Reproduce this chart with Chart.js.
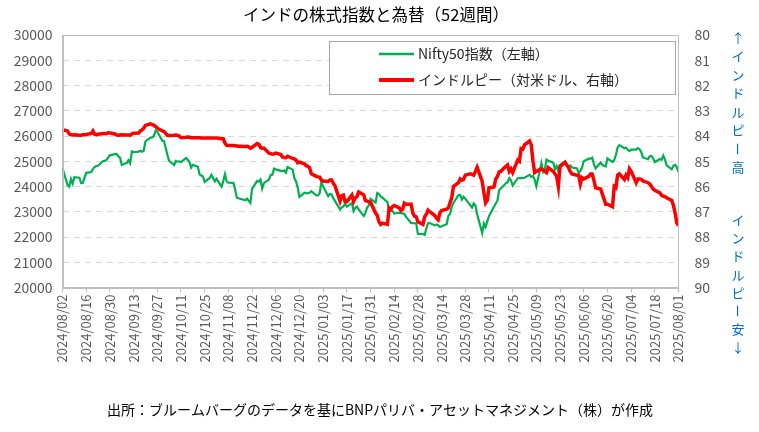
<!DOCTYPE html>
<html>
<head>
<meta charset="utf-8">
<script src="https://cdn.jsdelivr.net/npm/chart.js@4.4.1/dist/chart.umd.min.js"></script>
<style>
  html, body { margin: 0; padding: 0; background: #fff; }
  #wrap { width: 759px; height: 432px; position: relative; }
</style>
</head>
<body>
<div id="wrap"><canvas id="chart-india"></canvas></div>
<script>
// Business days (one line per week)
const dates = [
  '2024/08/02',
  '2024/08/05','2024/08/06','2024/08/07','2024/08/08','2024/08/09',
  '2024/08/12','2024/08/13','2024/08/14','2024/08/15','2024/08/16',
  '2024/08/19','2024/08/20','2024/08/21','2024/08/22','2024/08/23',
  '2024/08/26','2024/08/27','2024/08/28','2024/08/29','2024/08/30',
  '2024/09/02','2024/09/03','2024/09/04','2024/09/05','2024/09/06',
  '2024/09/09','2024/09/10','2024/09/11','2024/09/12','2024/09/13',
  '2024/09/16','2024/09/17','2024/09/18','2024/09/19','2024/09/20',
  '2024/09/23','2024/09/24','2024/09/25','2024/09/26','2024/09/27',
  '2024/09/30','2024/10/01','2024/10/02','2024/10/03','2024/10/04',
  '2024/10/07','2024/10/08','2024/10/09','2024/10/10','2024/10/11',
  '2024/10/14','2024/10/15','2024/10/16','2024/10/17','2024/10/18',
  '2024/10/21','2024/10/22','2024/10/23','2024/10/24','2024/10/25',
  '2024/10/28','2024/10/29','2024/10/30','2024/10/31','2024/11/01',
  '2024/11/04','2024/11/05','2024/11/06','2024/11/07','2024/11/08',
  '2024/11/11','2024/11/12','2024/11/13','2024/11/14','2024/11/15',
  '2024/11/18','2024/11/19','2024/11/20','2024/11/21','2024/11/22',
  '2024/11/25','2024/11/26','2024/11/27','2024/11/28','2024/11/29',
  '2024/12/02','2024/12/03','2024/12/04','2024/12/05','2024/12/06',
  '2024/12/09','2024/12/10','2024/12/11','2024/12/12','2024/12/13',
  '2024/12/16','2024/12/17','2024/12/18','2024/12/19','2024/12/20',
  '2024/12/23','2024/12/24','2024/12/25','2024/12/26','2024/12/27',
  '2024/12/30','2024/12/31','2025/01/01','2025/01/02','2025/01/03',
  '2025/01/06','2025/01/07','2025/01/08','2025/01/09','2025/01/10',
  '2025/01/13','2025/01/14','2025/01/15','2025/01/16','2025/01/17',
  '2025/01/20','2025/01/21','2025/01/22','2025/01/23','2025/01/24',
  '2025/01/27','2025/01/28','2025/01/29','2025/01/30','2025/01/31',
  '2025/02/03','2025/02/04','2025/02/05','2025/02/06','2025/02/07',
  '2025/02/10','2025/02/11','2025/02/12','2025/02/13','2025/02/14',
  '2025/02/17','2025/02/18','2025/02/19','2025/02/20','2025/02/21',
  '2025/02/24','2025/02/25','2025/02/26','2025/02/27','2025/02/28',
  '2025/03/03','2025/03/04','2025/03/05','2025/03/06','2025/03/07',
  '2025/03/10','2025/03/11','2025/03/12','2025/03/13','2025/03/14',
  '2025/03/17','2025/03/18','2025/03/19','2025/03/20','2025/03/21',
  '2025/03/24','2025/03/25','2025/03/26','2025/03/27','2025/03/28',
  '2025/03/31','2025/04/01','2025/04/02','2025/04/03','2025/04/04',
  '2025/04/07','2025/04/08','2025/04/09','2025/04/10','2025/04/11',
  '2025/04/14','2025/04/15','2025/04/16','2025/04/17','2025/04/18',
  '2025/04/21','2025/04/22','2025/04/23','2025/04/24','2025/04/25',
  '2025/04/28','2025/04/29','2025/04/30','2025/05/01','2025/05/02',
  '2025/05/05','2025/05/06','2025/05/07','2025/05/08','2025/05/09',
  '2025/05/12','2025/05/13','2025/05/14','2025/05/15','2025/05/16',
  '2025/05/19','2025/05/20','2025/05/21','2025/05/22','2025/05/23',
  '2025/05/26','2025/05/27','2025/05/28','2025/05/29','2025/05/30',
  '2025/06/02','2025/06/03','2025/06/04','2025/06/05','2025/06/06',
  '2025/06/09','2025/06/10','2025/06/11','2025/06/12','2025/06/13',
  '2025/06/16','2025/06/17','2025/06/18','2025/06/19','2025/06/20',
  '2025/06/23','2025/06/24','2025/06/25','2025/06/26','2025/06/27',
  '2025/06/30','2025/07/01','2025/07/02','2025/07/03','2025/07/04',
  '2025/07/07','2025/07/08','2025/07/09','2025/07/10','2025/07/11',
  '2025/07/14','2025/07/15','2025/07/16','2025/07/17','2025/07/18',
  '2025/07/21','2025/07/22','2025/07/23','2025/07/24','2025/07/25',
  '2025/07/28','2025/07/29','2025/07/30','2025/07/31','2025/08/01'
];

// Nifty50 (left axis), null = market holiday
const nifty = [
  24718,
  24055, 23992, 24297, 24117, 24367,
  24347, 24139, 24143, null, 24541,
  24572, 24698, 24770, 24811, 24823,
  25010, 25017, 25052, 25151, 25235,
  25279, 25279, 25198, 25145, 24852,
  24936, 25041, 24918, 25388, 25357,
  25383, 25418, 25377, 25415, 25791,
  25939, 25940, 26004, 26216, 26179,
  25811, 25797, null, 25250, 25015,
  24850, 25013, 24982, 24998, 24964,
  25128, 25057, 24971, 24750, 24854,
  24781, 24472, 24435, 24399, 24181,
  24339, 24466, 24341, 24205, 24304,
  23995, 24213, 24484, 24199, 24148,
  24141, 23883, 23559, 23532, null,
  23453, 23518, null, 23349, 23907,
  24221, 24194, 24274, 23914, 24131,
  24276, 24457, 24467, 24708, 24677,
  24619, 24610, 24641, 24548, 24768,
  24668, 24336, 24198, 23951, 23587,
  23753, 23727, null, 23750, 23813,
  23644, 23644, 23742, 24188, 24004,
  23616, 23707, 23688, 23526, 23431,
  23085, 23176, 23213, 23311, 23203,
  23344, 23025, 23155, 23205, 23092,
  22829, 22957, 23163, 23249, 23508,
  23361, 23739, 23696, 23603, 23560,
  23381, 23071, 23045, 23031, 22929,
  22959, 22945, 22933, 22913, 22796,
  22553, 22547, null, 22545, 22125,
  22119, 22083, 22337, 22545, 22553,
  22460, 22498, 22470, 22397, null,
  22509, 22834, 22908, 23191, 23350,
  23659, 23669, 23487, 23592, 23519,
  null, 23165, 23332, 23250, 22904,
  22162, 22536, 22399, null, 22829,
  null, 23328, 23437, 23852, null,
  24125, 24167, 24329, 24247, 24039,
  24328, 24336, 24334, null, 24346,
  24461, 24380, 24414, 24273, 24008,
  24924, 24578, 24666, 25062, 25019,
  24945, 24683, 24813, 24609, 24853,
  25001, 24826, 24752, 24833, 24751,
  24716, 24543, 24621, 24751, 25003,
  25103, 25104, 25141, 24888, 24719,
  24946, 24853, 24812, 24793, 25112,
  24972, 25044, 25245, 25549, 25637,
  25517, 25542, 25453, 25405, 25461,
  25461, 25523, 25476, 25355, 25150,
  25082, 25196, 25212, 25112, 24968,
  25091, 25061, 25220, 25062, 24837,
  24681, 24821, 24855, 24768, 24565
];

// Rupee per US dollar (right axis, reversed)
const inr = [
  83.75,
  83.80, 83.92, 83.95, 83.96, 83.95,
  83.97, 83.97, 83.95, 83.95, 83.94,
  83.90, 83.80, 83.93, 83.95, 83.93,
  83.90, 83.90, 83.91, 83.87, 83.88,
  83.92, 83.96, 83.97, 83.96, 83.95,
  83.96, 83.96, 83.97, 83.92, 83.89,
  83.88, 83.80, 83.76, 83.69, 83.58,
  83.52, 83.55, 83.57, 83.63, 83.69,
  83.80, 83.82, 83.90, 83.97, 83.98,
  83.97, 83.96, 83.98, 84.00, 84.07,
  84.05, 84.04, 84.05, 84.07, 84.07,
  84.07, 84.07, 84.08, 84.08, 84.08,
  84.08, 84.08, 84.08, 84.08, 84.08,
  84.11, 84.11, 84.28, 84.37, 84.38,
  84.38, 84.39, 84.40, 84.41, 84.41,
  84.42, 84.41, 84.43, 84.48, 84.45,
  84.30, 84.33, 84.45, 84.49, 84.48,
  84.68, 84.70, 84.72, 84.71, 84.68,
  84.73, 84.83, 84.85, 84.86, 84.80,
  84.89, 84.91, 84.95, 85.06, 85.03,
  85.10, 85.18, 85.20, 85.26, 85.50,
  85.60, 85.62, 85.63, 85.75, 85.78,
  85.80, 85.74, 85.74, 85.87, 85.97,
  86.58, 86.37, 86.34, 86.60, 86.60,
  86.34, 86.59, 86.45, 86.40, 86.22,
  86.33, 86.56, 86.58, 86.61, 86.62,
  87.05, 87.15, 87.40, 87.50, 87.45,
  87.50, 86.85, 86.90, 86.80, 86.75,
  86.85, 86.95, 86.90, 86.66, 86.70,
  86.70, 87.05, 87.18, 87.20, 87.40,
  87.50, 87.20, 87.10, 86.94, 87.00,
  87.15, 87.25, 87.32, 87.05, 86.95,
  86.90, 86.85, 86.65, 86.45, 86.00,
  85.85, 85.70, 85.75, 85.72, 85.55,
  85.50, 85.52, 85.55, 85.40, 85.24,
  85.80, 86.25, 86.65, 86.55, 86.05,
  86.02, 85.70, 85.60, 85.42, 85.40,
  85.20, 85.15, 85.40, 85.30, 85.45,
  84.95, 85.00, 84.50, 84.52, 84.35,
  84.20, 84.35, 85.00, 85.45, 85.40,
  85.30, 85.35, 85.40, 85.45, 85.25,
  85.40, 85.50, 85.60, 86.00, 85.20,
  85.05, 85.15, 85.25, 85.40, 85.50,
  85.55, 85.55, 85.90, 85.65, 85.70,
  85.60, 85.50, 85.50, 85.75, 86.05,
  86.10, 86.30, 86.50, 86.70, 86.70,
  86.80, 86.00, 86.05, 85.55, 85.50,
  85.72, 85.55, 85.65, 85.30, 85.40,
  85.85, 85.70, 85.70, 85.72, 85.78,
  85.85, 85.90, 86.00, 86.10, 86.15,
  86.25, 86.35, 86.38, 86.40, 86.45,
  86.55, 86.75, 87.05, 87.45, 87.55
];

const seriesLabels = ['Nifty50指数（左軸）', 'インドルピー（対米ドル、右軸）'];
const titleText = 'インドの株式指数と為替（52週間）';
const sourceText = '出所：ブルームバーグのデータを基にBNPパリバ・アセットマネジメント（株）が作成';
const rupeeUpText = ['↑', 'イ', 'ン', 'ド', 'ル', 'ピ', 'ー', '高'];
const rupeeDownText = ['イ', 'ン', 'ド', 'ル', 'ピ', 'ー', '安', '↓'];

const startDate = '2024/08/02';
const endDate = '2025/08/01';

const colors = {
  nifty: '#00B050',
  inr: '#FF0000',
  tick: '#595959',
  text: '#000000',
  frame: '#BFBFBF',
  grid: '#D9D9D9',
  blue: '#0070C0'
};
const FONT = "'Noto Sans CJK JP', 'Noto Sans', sans-serif";

function toUTC(s) {
  const p = s.split('/').map(Number);
  return Date.UTC(p[0], p[1] - 1, p[2]);
}
const DAY = 86400000;
const t0 = toUTC(startDate);
function dayIndex(s) { return Math.round((toUTC(s) - t0) / DAY); }
function dayLabel(v) {
  const d = new Date(t0 + v * DAY);
  const mm = String(d.getUTCMonth() + 1).padStart(2, '0');
  const dd = String(d.getUTCDate()).padStart(2, '0');
  return d.getUTCFullYear() + '/' + mm + '/' + dd;
}

// Title, source, side text, legend box and plot frame
const chartDecor = {
  id: 'chartDecor',
  afterDraw(chart) {
    const ctx = chart.ctx;
    const a = chart.chartArea;
    ctx.save();

    // frame around plot area
    ctx.strokeStyle = colors.frame;
    ctx.lineWidth = 1;
    ctx.strokeRect(Math.round(a.left) + 0.5, Math.round(a.top) + 0.5,
      Math.round(a.right - a.left) - 1, Math.round(a.bottom - a.top));

    // title
    ctx.fillStyle = colors.text;
    ctx.textAlign = 'center';
    ctx.textBaseline = 'middle';
    ctx.font = '16.5px ' + FONT;
    ctx.fillText(titleText, 376, 15);

    // source
    ctx.font = '14px ' + FONT;
    ctx.fillText(sourceText, 380, 410);

    // vertical text on the right
    ctx.fillStyle = colors.blue;
    ctx.font = '13px ' + FONT;
    const drawColumn = function(chars, x, y0, step) {
      chars.forEach(function(c, i) {
        const y = y0 + i * step;
        if (c === 'ー') {
          ctx.save();
          ctx.translate(x, y);
          ctx.rotate(Math.PI / 2);
          ctx.fillText(c, 0, 0);
          ctx.restore();
        } else {
          ctx.fillText(c, x, y);
        }
      });
    };
    drawColumn(rupeeUpText, 738, 38, 18.5);
    drawColumn(rupeeDownText, 738, 220, 18.2);

    // legend
    const lx = 329.5, ly = 41.5, lw = 346, lh = 53;
    ctx.fillStyle = '#FFFFFF';
    ctx.fillRect(lx, ly, lw, lh);
    ctx.strokeStyle = '#A6A6A6';
    ctx.strokeRect(lx, ly, lw, lh);
    const items = [
      { label: seriesLabels[0], color: colors.nifty, width: 2.5, y: 54 },
      { label: seriesLabels[1], color: colors.inr, width: 4, y: 80 }
    ];
    ctx.textAlign = 'left';
    ctx.font = '14px ' + FONT;
    items.forEach(function(it) {
      ctx.strokeStyle = it.color;
      ctx.lineWidth = it.width;
      ctx.beginPath();
      ctx.moveTo(379, it.y);
      ctx.lineTo(414, it.y);
      ctx.stroke();
      ctx.fillStyle = '#262626';
      ctx.fillText(it.label, 418, it.y);
    });
    ctx.restore();
  }
};

function buildPoints(values) {
  return dates.map(function(d, i) { return { x: dayIndex(d), y: values[i] }; });
}

const ctx = document.getElementById('chart-india');
const chart = new Chart(ctx, {
  type: 'line',
  data: {
    datasets: [
      {
        label: seriesLabels[0],
        data: buildPoints(nifty),
        yAxisID: 'yLeft',
        borderColor: colors.nifty,
        borderWidth: 2.2,
        pointRadius: 0,
        tension: 0,
        spanGaps: true,
        order: 1
      },
      {
        label: seriesLabels[1],
        data: buildPoints(inr),
        yAxisID: 'yRight',
        borderColor: colors.inr,
        borderWidth: 3.5,
        pointRadius: 0,
        tension: 0,
        spanGaps: true,
        order: 0
      }
    ]
  },
  options: {
    responsive: true,
    maintainAspectRatio: false,
    animation: false,
    layout: { padding: { top: 35, left: 0, right: 0, bottom: 0 } },
    plugins: {
      legend: { display: false },
      title: { display: false },
      tooltip: { enabled: false }
    },
    scales: {
      x: {
        type: 'linear',
        min: 0,
        max: dayIndex(endDate),
        afterFit: function(scale) { scale.height = 432 - 35 - 252.5; },
        grid: {
          display: true,
          drawOnChartArea: false,
          drawTicks: true,
          tickLength: 5,
          color: colors.frame
        },
        border: { display: true, color: colors.frame },
        ticks: {
          stepSize: 14,
          autoSkip: false,
          maxRotation: 90,
          minRotation: 90,
          padding: 2,
          color: colors.tick,
          font: { family: FONT, size: 13 },
          callback: function(value) { return dayLabel(value); }
        }
      },
      yLeft: {
        type: 'linear',
        position: 'left',
        min: 20000,
        max: 30000,
        afterFit: function(scale) { scale.width = 62.5; },
        grid: {
          color: colors.grid,
          drawTicks: false
        },
        border: { display: true, color: colors.frame, dash: [6, 5] },
        ticks: {
          stepSize: 1000,
          padding: 10,
          color: colors.tick,
          font: { family: FONT, size: 14 },
          callback: function(value) { return String(value); }
        }
      },
      yRight: {
        type: 'linear',
        position: 'right',
        reverse: true,
        min: 80,
        max: 90,
        afterFit: function(scale) { scale.width = 80.5; },
        grid: { drawOnChartArea: false, drawTicks: false },
        border: { display: true, color: colors.frame },
        ticks: {
          stepSize: 1,
          padding: 16,
          color: colors.tick,
          font: { family: FONT, size: 14 }
        }
      }
    }
  },
  plugins: [chartDecor]
});
</script>
</body>
</html>
